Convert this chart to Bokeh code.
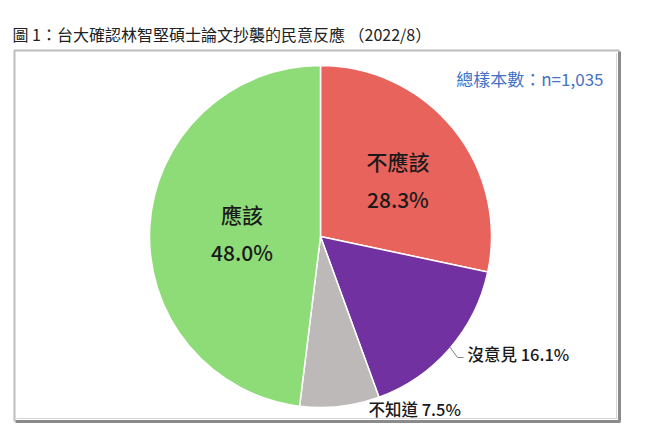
import math
from bokeh.plotting import figure
from bokeh.models import Range1d
from bokeh.core.properties import value
from bokeh.embed import file_html
from bokeh.resources import INLINE

# ---- data ----
categories = ["不應該", "沒意見", "不知道", "應該"]
shares = [28.3, 16.1, 7.5, 48.0]
colors = ["#E9635D", "#7131A1", "#BDB9B8", "#8EDC78"]
title_text = "圖 1：台大確認林智堅碩士論文抄襲的民意反應 （2022/8）"
sample_text = "總樣本數：n=1,035"

W, H = 648, 424
IMG_H = 428  # reference picture height; data y = IMG_H - image y

def Y(img_y):
    return IMG_H - img_y

p = figure(width=W, height=H, output_backend="svg", toolbar_location=None,
           x_range=Range1d(0, W), y_range=Range1d(IMG_H - H, IMG_H),
           min_border=0, background_fill_color="white", border_fill_color="white")
p.axis.visible = False
p.grid.visible = False
p.outline_line_color = None

FONT = value("Noto Sans CJK TC")
FONT_M = value("Noto Sans CJK TC Medium")

# frame
p.line([14, 14, 619], [Y(421), Y(50), Y(50)], line_color="#BDBDBD", line_width=2)
p.line([619, 619], [Y(51), Y(421)], line_color="#8A8A8A", line_width=3)
p.line([15, 620], [Y(421), Y(421)], line_color="#8A8A8A", line_width=3)
p.line([616, 616], [Y(53), Y(418)], line_color="#D5D5D5", line_width=1)
p.line([16, 617], [Y(418), Y(418)], line_color="#D5D5D5", line_width=1)

# title
p.text(x=[12], y=[Y(33)], text=[title_text], text_font=FONT, text_font_size="16px",
       text_color="#222222", text_baseline="middle", text_align="left")

# sample size
p.text(x=[603], y=[Y(78)], text=[sample_text], text_font=FONT, text_font_size="17px",
       text_color="#4472C4", text_baseline="middle", text_align="right")

# pie
cx, cy, R = 320, Y(236), 171
total = sum(shares)
starts, ends = [], []
cum = 0.0
for s in shares:
    a0 = math.pi / 2 - 2 * math.pi * cum / total
    cum += s
    a1 = math.pi / 2 - 2 * math.pi * cum / total
    starts.append(a0)
    ends.append(a1)

p.wedge(x=[cx] * len(shares), y=[cy] * len(shares), radius=R,
        start_angle=starts, end_angle=ends, direction="clock",
        fill_color=colors, line_color="white", line_width=1.5)

# inside labels (不應該, 應該)
def lab_pos(i, rfrac):
    mid = (starts[i] + ends[i]) / 2
    return cx + rfrac * R * math.cos(mid), cy + rfrac * R * math.sin(mid)

for i, rfrac, dx, dy in [(0, 0.59, -1, -7), (3, 0.46, 0, -1)]:
    x0, y0 = lab_pos(i, rfrac)
    x0 += dx
    y0 += dy
    p.text(x=[x0], y=[y0 + 19], text=[categories[i]], text_font=FONT_M, text_font_size="21px",
           text_color="#1A1A1A", text_baseline="middle", text_align="center")
    p.text(x=[x0], y=[y0 - 19], text=[f"{shares[i]:.1f}%"], text_font=FONT_M, text_font_size="21px",
           text_color="#1A1A1A", text_baseline="middle", text_align="center")

# outside labels
p.line([449, 457, 463], [Y(346), Y(357), Y(357)], line_color="#808080", line_width=1)
p.text(x=[467], y=[Y(353)], text=[f"{categories[1]} {shares[1]:.1f}%"], text_font=FONT_M,
       text_font_size="16.5px", text_color="#1A1A1A", text_baseline="middle", text_align="left")
p.text(x=[368], y=[Y(408)], text=[f"{categories[2]} {shares[2]:.1f}%"], text_font=FONT_M,
       text_font_size="16.5px", text_color="#1A1A1A", text_baseline="middle", text_align="left")

open("out.html", "w").write(file_html(p, INLINE))
